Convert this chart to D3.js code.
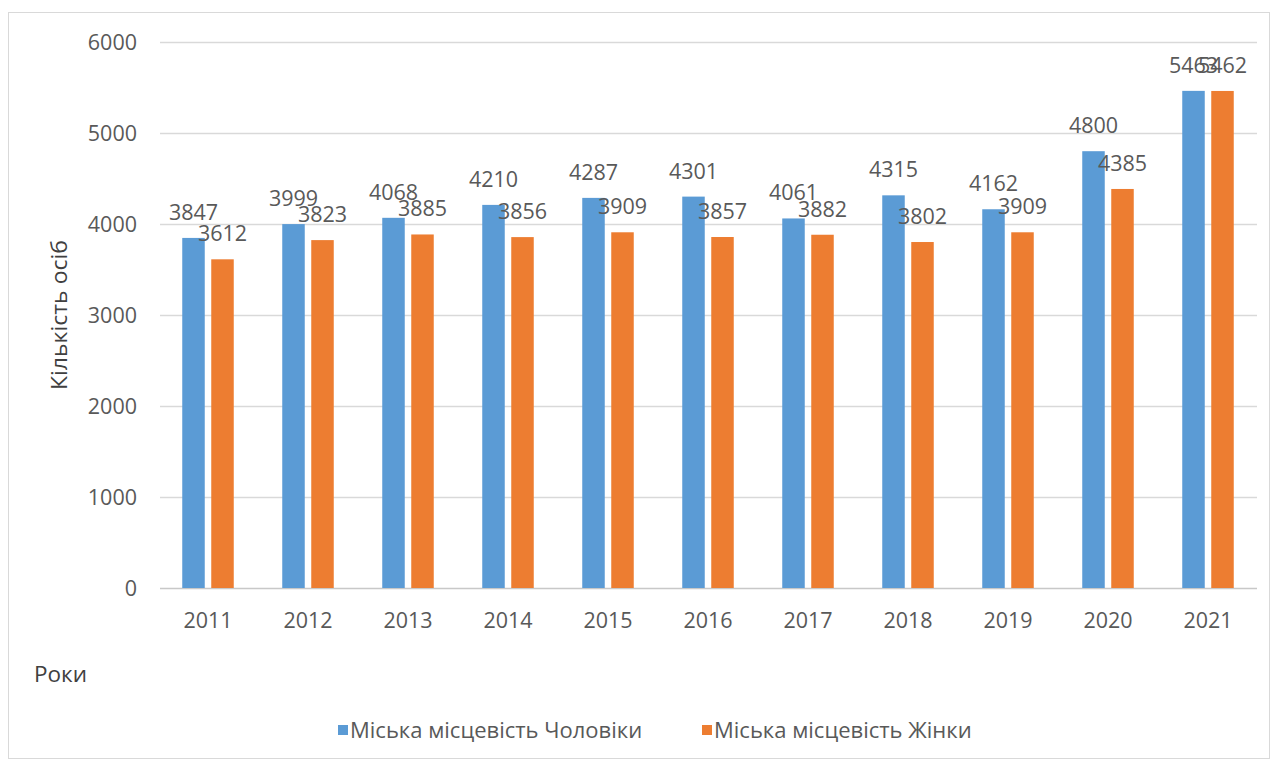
<!DOCTYPE html>
<html>
<head>
<meta charset="utf-8">
<script src="https://cdn.jsdelivr.net/npm/d3@7"></script>
<style>
  body { margin: 0; background: #fff; }
  svg text { font-family: "Open Sans", sans-serif; fill: #595959; }
</style>
</head>
<body>
<svg id="chart" width="1278" height="760"></svg>
<script>
const years = ['2011', '2012', '2013', '2014', '2015', '2016', '2017', '2018', '2019', '2020', '2021']
const men = [3847, 3999, 4068, 4210, 4287, 4301, 4061, 4315, 4162, 4800, 5463]
const women = [3612, 3823, 3885, 3856, 3909, 3857, 3882, 3802, 3909, 4385, 5462]
const seriesNames = ['Міська місцевість Чоловіки', 'Міська місцевість Жінки']
const colors = ['#5b9bd5', '#ed7d31']
const yTicks = [0, 1000, 2000, 3000, 4000, 5000, 6000]

const svg = d3.select('#chart')
const margin = { top: 42, left: 158, right: 20, bottom: 172 }
const width = 1278
const height = 760
const fs = '21.5px'

// outer border
svg.append('rect')
  .attr('x', 8.5).attr('y', 12.5)
  .attr('width', width - 17).attr('height', height - 14)
  .attr('fill', 'none').attr('stroke', '#d9d9d9')

const x = d3.scaleBand()
  .domain(years)
  .range([margin.left, width - margin.right])
  .paddingInner(0).paddingOuter(0)

const y = d3.scaleLinear()
  .domain([0, 6000])
  .range([height - margin.bottom, margin.top])

const barW = 22.5
const gap = 6.5

// gridlines
svg.append('g')
  .selectAll('line')
  .data(yTicks)
  .join('line')
  .attr('x1', margin.left + 2)
  .attr('x2', width - margin.right - 1)
  .attr('y1', (d) => Math.round(y(d)) + 0.5)
  .attr('y2', (d) => Math.round(y(d)) + 0.5)
  .attr('stroke', (d) => (d === 0 ? '#c8c8c8' : '#d9d9d9'))
  .attr('stroke-width', 1.5)

// y tick labels
svg.append('g')
  .selectAll('text')
  .data(yTicks)
  .join('text')
  .attr('x', 137)
  .attr('y', (d) => y(d))
  .attr('dy', '0.35em')
  .attr('text-anchor', 'end')
  .style('font-size', fs)
  .text((d) => d)

const series = [men, women]
const offsets = [-(gap / 2 + barW / 2), gap / 2 + barW / 2]

series.forEach((vals, si) => {
  const g = svg.append('g')
  g.selectAll('rect')
    .data(vals)
    .join('rect')
    .attr('x', (d, i) => x(years[i]) + x.bandwidth() / 2 + offsets[si] - barW / 2)
    .attr('y', (d) => y(d))
    .attr('width', barW)
    .attr('height', (d) => y(0) - y(d))
    .attr('fill', colors[si])
})

series.forEach((vals, si) => {
  svg.append('g')
    .selectAll('text')
    .data(vals)
    .join('text')
    .attr('x', (d, i) => x(years[i]) + x.bandwidth() / 2 + offsets[si])
    .attr('y', (d) => y(d) - 18)
    .attr('text-anchor', 'middle')
    .style('font-size', fs)
    .text((d) => d)
})

// x tick labels
svg.append('g')
  .selectAll('text')
  .data(years)
  .join('text')
  .attr('x', (d) => x(d) + x.bandwidth() / 2)
  .attr('y', 628)
  .attr('text-anchor', 'middle')
  .style('font-size', fs)
  .text((d) => d)

// axis titles
svg.append('text')
  .attr('transform', `translate(67,${(y(0) + y(6000)) / 2}) rotate(-90)`)
  .attr('text-anchor', 'middle')
  .attr('textLength', 150)
  .attr('lengthAdjust', 'spacingAndGlyphs')
  .style('font-size', '21px')
  .style('fill', '#404040')
  .text('Кількість осіб')

svg.append('text')
  .attr('x', 34)
  .attr('y', 682)
  .style('font-size', '22.5px')
  .style('fill', '#404040')
  .text('Роки')

// legend
const legendX = [338, 702]
seriesNames.forEach((name, i) => {
  svg.append('rect')
    .attr('x', legendX[i]).attr('y', 725)
    .attr('width', 10).attr('height', 10)
    .attr('fill', colors[i])
  svg.append('text')
    .attr('x', legendX[i] + 12)
    .attr('y', 730)
    .attr('dy', '0.35em')
    .style('font-size', '22px')
    .text(name)
})
</script>
</body>
</html>
